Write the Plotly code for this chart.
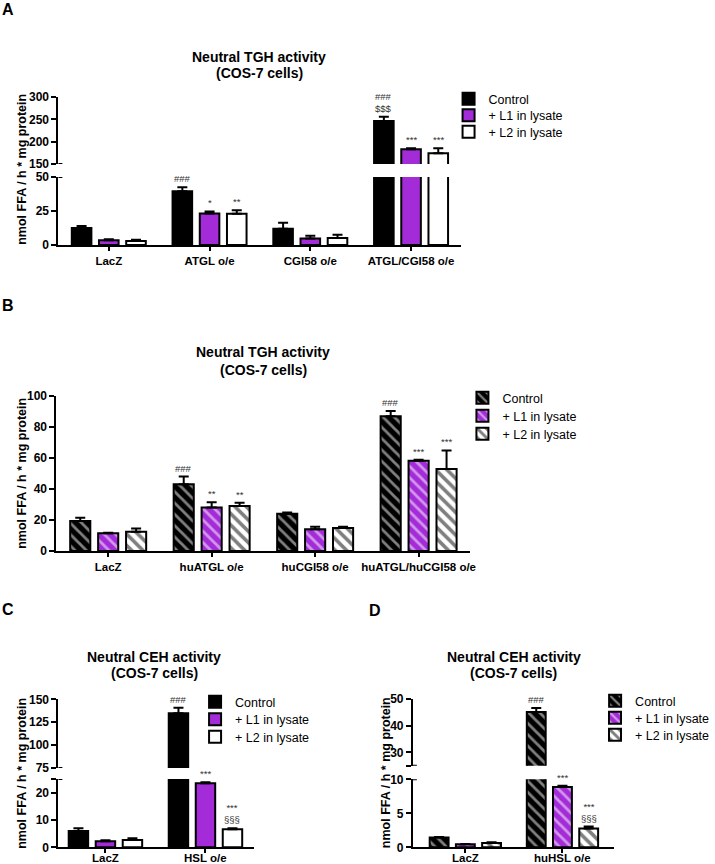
import plotly.graph_objects as go

FONT = "Liberation Sans, Arial, sans-serif"
SERIES = ["Control", "+ L1 in lysate", "+ L2 in lysate"]
PURPLE = "#A42CD8"

# ---------------- Panel A (solid bars, broken axis) ----------------
cats_a = ["LacZ", "ATGL o/e", "CGI58 o/e", "ATGL/CGI58 o/e"]
ctrl_a = [12.5, 39.6, 12.0, 246]
ctrl_a_err = [1.5, 2.9, 4.3, 10]
l1_a = [3.5, 23.2, 4.8, 183]
l1_a_err = [0.8, 1.5, 2.0, 2.5]
l2_a = [2.9, 23.0, 5.2, 174]
l2_a_err = [1.0, 2.5, 2.3, 11]
sig_a = [["", "###", "", "###<br>$$$"], ["", "*", "", "***"], ["", "**", "", "***"]]
ticks_a_low = [0, 25, 50]
ticks_a_up = [150, 200, 250, 300]

# ---------------- Panel B (hatched bars) ----------------
cats_b = ["LacZ", "huATGL o/e", "huCGI58 o/e", "huATGL/huCGI58 o/e"]
ctrl_b = [19.4, 43.0, 24.0, 87.0]
ctrl_b_err = [2.1, 5.0, 0.8, 3.3]
l1_b = [11.4, 28.0, 14.0, 58.3]
l1_b_err = [0.3, 3.4, 1.7, 0.5]
l2_b = [12.5, 29.0, 14.8, 52.9]
l2_b_err = [2.0, 2.2, 0.8, 12.0]
sig_b = [["", "###", "", "###"], ["", "**", "", "***"], ["", "**", "", "***"]]
ticks_b = [0, 20, 40, 60, 80, 100]

# ---------------- Panel C (solid bars, broken axis) ----------------
cats_c = ["LacZ", "HSL o/e"]
ctrl_c = [6.0, 134.8]
ctrl_c_err = [1.0, 6.0]
l1_c = [2.2, 23.4]
l1_c_err = [0.4, 0.4]
l2_c = [2.7, 6.6]
l2_c_err = [0.6, 0.4]
sig_c = [["", "###"], ["", "***"], ["", "***<br>§§§"]]
ticks_c_low = [0, 10, 20, 25]
ticktext_c_low = ["0", "10", "20", ""]
ticks_c_up = [75, 100, 125, 150]

# ---------------- Panel D (hatched bars, broken axis) ----------------
cats_d = ["LacZ", "huHSL o/e"]
ctrl_d = [1.45, 45.1]
ctrl_d_err = [0.05, 1.5]
l1_d = [0.45, 8.85]
l1_d_err = [0.05, 0.2]
l2_d = [0.65, 2.75]
l2_d_err = [0.1, 0.3]
sig_d = [["", "###"], ["", "***"], ["", "***<br>§§§"]]
ticks_d_low = [0, 5, 10]
ticks_d_up = [25, 30, 40, 50]
ticktext_d_up = ["", "30", "40", "50"]

BARGAP = 0.19
SLOT = (1 - BARGAP) / 3
W, H = 715, 864

fig = go.Figure()

solid_styles = [dict(color="black"), dict(color=PURPLE), dict(color="white")]
hatch_styles = [
    dict(color="black", pattern=dict(shape="\\", fgcolor="white", fillmode="overlay", size=8, solidity=0.35)),
    dict(color=PURPLE, pattern=dict(shape="\\", fgcolor="white", fillmode="overlay", size=8, solidity=0.35)),
    dict(color="white", pattern=dict(shape="\\", fgcolor="black", fillmode="overlay", size=8, solidity=0.45)),
]

legend_counter = [0]


def next_legend():
    legend_counter[0] += 1
    n = legend_counter[0]
    return "legend" if n == 1 else "legend%d" % n


def add_bars(xname, yname, cats, vals, errs, styles, legends):
    xs = list(range(len(cats)))
    for k in range(3):
        m = dict(styles[k])
        m["line"] = dict(color="black", width=2)
        kw = dict(showlegend=False)
        if legends is not None:
            kw = dict(showlegend=True, legend=legends[k])
        fig.add_trace(go.Bar(
            x=xs, y=vals[k], name=SERIES[k], xaxis=xname, yaxis=yname,
            marker=m,
            error_y=dict(type="data", symmetric=False, array=errs[k],
                         arrayminus=[0] * len(cats), color="black",
                         thickness=2, width=5),
            hoverinfo="skip", **kw,
        ))


def add_sig(vals, errs, sig, segs):
    for k in range(3):
        for g, txt in enumerate(sig[k]):
            if not txt:
                continue
            top = vals[k][g] + errs[k][g]
            yref, xref = segs[0][0], segs[0][2]
            for s in segs:
                if top <= s[1]:
                    yref, xref = s[0], s[2]
                    break
            fig.add_annotation(x=g + (k - 1) * SLOT, y=top, xref=xref, yref=yref,
                               text=txt, showarrow=False, yanchor="bottom",
                               yshift=1, font=dict(size=9.5, color="#333", family=FONT))


# legend placement (text left x, row centres y) per panel, in px
legend_pos = [
    (493, [99, 115.5, 132]),
    (507, [398, 416, 434]),
    (237, [702, 719.5, 737]),
    (641, [701, 718, 735]),
]
leg_layout = {}
panel_legends = []
for tx, rows in legend_pos:
    names = []
    for ry in rows:
        nm = next_legend()
        names.append(nm)
        leg_layout[nm] = dict(x=(tx - 40) / W, y=1 - ry / H, xanchor="left", yanchor="middle",
                              bgcolor="rgba(0,0,0,0)", borderwidth=0,
                              font=dict(size=12.5, family=FONT, color="black"),
                              itemclick=False, itemdoubleclick=False)
    panel_legends.append(names)

# Panel A
vals_a = [ctrl_a, l1_a, l2_a]
errs_a = [ctrl_a_err, l1_a_err, l2_a_err]
add_bars("x", "y", cats_a, vals_a, errs_a, solid_styles, panel_legends[0])
add_bars("x2", "y2", cats_a, vals_a, errs_a, solid_styles, None)
add_sig(vals_a, errs_a, sig_a, [("y", 50, "x"), ("y2", 300, "x2")])

# Panel B
vals_b = [ctrl_b, l1_b, l2_b]
errs_b = [ctrl_b_err, l1_b_err, l2_b_err]
add_bars("x3", "y3", cats_b, vals_b, errs_b, hatch_styles, panel_legends[1])
add_sig(vals_b, errs_b, sig_b, [("y3", 100, "x3")])

# Panel C
vals_c = [ctrl_c, l1_c, l2_c]
errs_c = [ctrl_c_err, l1_c_err, l2_c_err]
add_bars("x4", "y4", cats_c, vals_c, errs_c, solid_styles, panel_legends[2])
add_bars("x5", "y5", cats_c, vals_c, errs_c, solid_styles, None)
add_sig(vals_c, errs_c, sig_c, [("y4", 25, "x4"), ("y5", 150, "x5")])

# Panel D
vals_d = [ctrl_d, l1_d, l2_d]
errs_d = [ctrl_d_err, l1_d_err, l2_d_err]
add_bars("x6", "y6", cats_d, vals_d, errs_d, hatch_styles, panel_legends[3])
add_bars("x7", "y7", cats_d, vals_d, errs_d, hatch_styles, None)
add_sig(vals_d, errs_d, sig_d, [("y6", 10, "x6"), ("y7", 50, "x7")])


def px_x(p):
    return p / W


def px_y(p):
    return 1 - p / H


CAT_FONT = dict(size=11.5, family=FONT, color="black", weight="bold")


def yax(dom, rng, tickvals, anchor, ticktext=None):
    d = dict(domain=dom, range=rng, tickvals=tickvals, anchor=anchor,
             showline=True, linecolor="black", linewidth=2, ticks="outside",
             ticklen=5, tickwidth=2, tickcolor="black", showgrid=False,
             zeroline=False, fixedrange=True, automargin=False,
             tickfont=dict(size=12, family=FONT, color="black", weight="bold"))
    if ticktext is not None:
        d["ticktext"] = ticktext
    return d


def xax(dom, rng, cats, anchor, visible=True, labels=True):
    d = dict(domain=dom, range=rng, anchor=anchor, showgrid=False,
             zeroline=False, fixedrange=True, automargin=False)
    if visible:
        d.update(tickvals=list(range(len(cats))), ticktext=cats, showline=True,
                 linecolor="black", linewidth=2, ticks="outside", ticklen=4,
                 tickwidth=2, tickcolor="black", showticklabels=labels,
                 tickfont=CAT_FONT)
    else:
        d.update(showline=False, showticklabels=False, ticks="")
    return d


xa_dom = [px_x(59), px_x(466)]
xb_dom = [px_x(57), px_x(475)]
xc_dom = [px_x(59), px_x(257)]
xd_dom = [px_x(417), px_x(620)]

layout = dict(
    template="none",
    width=W, height=H, margin=dict(l=0, r=0, t=0, b=0, pad=0),
    paper_bgcolor="white", plot_bgcolor="white",
    barmode="group", bargap=BARGAP, bargroupgap=0.28,
    font=dict(family=FONT, color="black"),
    xaxis=xax(xa_dom, [-0.5, 3.5], cats_a, "y"),
    yaxis=yax([px_y(245), px_y(177)], [0, 50], ticks_a_low, "x"),
    xaxis2=xax(xa_dom, [-0.5, 3.5], cats_a, "y2", visible=False),
    yaxis2=yax([px_y(164), px_y(97)], [150, 300], ticks_a_up, "x2"),
    xaxis3=xax(xb_dom, [-0.5, 3.5], cats_b, "y3"),
    yaxis3=yax([px_y(551), px_y(396)], [0, 100], ticks_b, "x3"),
    xaxis4=xax(xc_dom, [-0.47, 1.49], cats_c, "y4", labels=False),
    yaxis4=yax([px_y(847.3), px_y(779)], [0, 25], ticks_c_low, "x4", ticktext_c_low),
    xaxis5=xax(xc_dom, [-0.47, 1.49], cats_c, "y5", visible=False),
    yaxis5=yax([px_y(768), px_y(699.3)], [75, 150], ticks_c_up, "x5"),
    xaxis6=xax(xd_dom, [-0.54, 1.53], cats_d, "y6", labels=False),
    yaxis6=yax([px_y(847.3), px_y(779.3)], [0, 10], ticks_d_low, "x6"),
    xaxis7=xax(xd_dom, [-0.54, 1.53], cats_d, "y7", visible=False),
    yaxis7=yax([px_y(765.7), px_y(699)], [25, 50], ticks_d_up, "x7", ticktext_d_up),
)
layout.update(leg_layout)
fig.update_layout(**layout)

# category labels of the bottom panels (placed so they stay inside the page)
for xref, cats in (("x4", cats_c), ("x6", cats_d)):
    for g, c in enumerate(cats):
        fig.add_annotation(text=c, x=g, xref=xref, y=0, yref="paper",
                           showarrow=False, xanchor="center", yanchor="bottom",
                           borderpad=0, yshift=-1, font=CAT_FONT)

# panel letters, titles, y-axis titles
letters = [("A", 8, 10), ("B", 8, 305), ("C", 8, 609), ("D", 379, 610)]
for t, x, y in letters:
    fig.add_annotation(text=t, x=px_x(x), y=px_y(y), xref="paper", yref="paper",
                       showarrow=False, xanchor="center", yanchor="middle",
                       font=dict(size=16, family=FONT, weight="bold"))

titles = [
    ("Neutral TGH activity", "(COS-7 cells)", 262, 57, 73),
    ("Neutral TGH activity", "(COS-7 cells)", 266, 352, 370),
    ("Neutral CEH activity", "(COS-7 cells)", 156, 657, 673),
    ("Neutral CEH activity", "(COS-7 cells)", 519, 657, 673),
]
for l1, l2, x, y1, y2 in titles:
    for txt, yy in ((l1, y1), (l2, y2)):
        fig.add_annotation(text=txt, x=px_x(x), y=px_y(yy), xref="paper", yref="paper",
                           showarrow=False, xanchor="center", yanchor="middle",
                           font=dict(size=14, family=FONT, weight="bold"))

ytitle = "nmol FFA / h * mg protein"
for x, y in [(22, 169), (22, 473), (22, 773), (390, 773)]:
    fig.add_annotation(text=ytitle, x=px_x(x), y=px_y(y), xref="paper", yref="paper",
                       showarrow=False, textangle=-90, xanchor="center", yanchor="middle",
                       font=dict(size=12.5, family=FONT, weight="bold"))

# small caps at axis break ends
breaks = [(xa_dom[0], "y2", 150), (xa_dom[0], "y", 50),
          (xc_dom[0], "y5", 75), (xc_dom[0], "y4", 25),
          (xd_dom[0], "y7", 25), (xd_dom[0], "y6", 10)]
for x0, yref, yv in breaks:
    fig.add_shape(type="line", xref="paper", yref=yref, x0=x0, x1=x0 + 4 / W,
                  y0=yv, y1=yv, line=dict(color="black", width=2))

fig.write_html("out.html", config={"displayModeBar": False},
               post_script="document.body.style.margin='0px';")
